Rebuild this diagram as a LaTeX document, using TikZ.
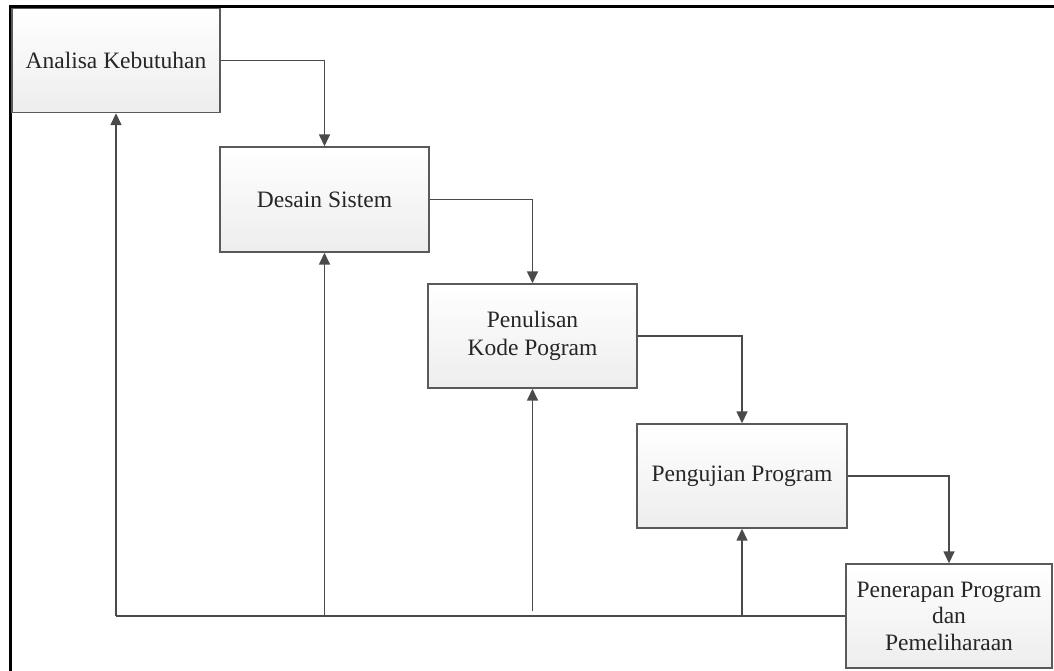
\documentclass[tikz,border=0pt]{standalone}
\usepackage{fontspec}
\setmainfont{Liberation Serif}
\usetikzlibrary{arrows.meta}
\definecolor{linegray}{HTML}{4A4A4A}
\definecolor{boxedge}{HTML}{5A5A5A}
\tikzset{
  stepbox/.style={draw=boxedge, line width=1.4pt, top color=white, bottom color=black!7,
    minimum width=208pt, minimum height=104pt, inner sep=0pt, align=center,
    text=black!85, font=\fontsize{23.5}{28}\selectfont},
  flow/.style={draw=linegray, line width=1.5pt, -{Triangle[length=12pt,width=11pt]}},
  plain/.style={draw=linegray, line width=1.5pt},
  frame/.style={draw=black, line width=3pt}
}
\begin{document}
\begin{tikzpicture}[x=1pt,y=-1pt]
\useasboundingbox (0,0) rectangle (1054,671);
\fill[white] (0,0) rectangle (1054,671);
\draw[frame] (10,671) -- (10,7) -- (1054,7);
\node[stepbox] (b1) at (116,60.5) {Analisa Kebutuhan};
\node[stepbox, minimum width=209pt, minimum height=105pt] (b2) at (324.5,199.5) {Desain Sistem};
\node[stepbox, minimum width=209pt] (b3) at (532.5,336) {Penulisan\\Kode Pogram};
\node[stepbox, minimum width=210pt] (b4) at (742,476) {Pengujian Program};
\node[stepbox, minimum width=206pt, font=\fontsize{23.5}{26.5}\selectfont] (b5) at (949,616) {Penerapan Program\\dan\\Pemeliharaan};
% forward flow
\draw[flow] (b1.east) -| (b2.north);
\draw[flow] (b2.east) -| (b3.north);
\draw[flow] (b3.east) -| (b4.north);
\draw[flow] (b4.east) -| (b5.north);
% feedback
\coordinate (f1) at (b1.south |- b5.west);
\coordinate (f2) at (b2.south |- b5.west);
\coordinate (f3) at (b3.south |- b5.west);
\coordinate (f4) at (b4.south |- b5.west);
\draw[plain] (b5.west) -- (f1);
\draw[flow] (f1) -- (b1.south);
\draw[flow] (f2) -- (b2.south);
\draw[flow] ([yshift=5pt]f3) -- (b3.south);
\draw[flow] (f4) -- (b4.south);
\end{tikzpicture}
\end{document}
